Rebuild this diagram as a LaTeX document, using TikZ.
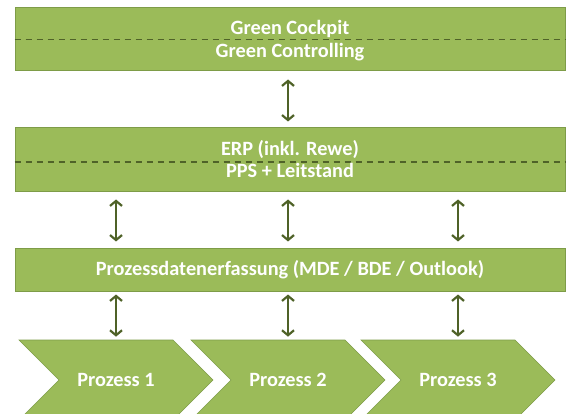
\documentclass[tikz,border=0pt]{standalone}
\usepackage{fontspec}
\setmainfont{Carlito}
\usetikzlibrary{arrows.meta,shapes.symbols}
\definecolor{boxgreen}{HTML}{9BBB59}
\definecolor{boxline}{HTML}{7E9C48}
\definecolor{darkgreen}{HTML}{4F6228}
\newcommand{\schrift}{\bfseries\fontsize{20.3}{24}\selectfont}

\begin{document}
\begin{tikzpicture}[x=1pt,y=-1pt,
    ebene/.style={draw=boxline,line width=1pt,fill=boxgreen,minimum width=550pt,inner sep=0pt,text=white,font=\schrift},
    prozess/.style={signal,signal to=east,signal from=west,signal pointer angle=90,draw=boxline,line width=0.6pt,fill=boxgreen,minimum width=194pt,minimum height=80pt,inner sep=0pt,text=white,font=\schrift},
    beschr/.style={text=white,font=\schrift,anchor=base},
    trenn/.style={darkgreen,line width=1.2pt,dash pattern=on 6pt off 5pt},
    pfeil/.style={darkgreen,line width=2.2pt,{Straight Barb[length=5pt,width=12pt]}-{Straight Barb[length=5pt,width=12pt]}}]
    \clip (0,0) rectangle (573,414);

    % Ebenen
    \node[ebene,minimum height=63pt] (cockpit) at (290,39.5) {};
    \node[ebene,minimum height=64pt] (erp) at (290,160) {};
    \node[ebene,minimum height=42pt] (pde) at (290,270) {Prozessdatenerfassung (MDE / BDE / Outlook)};

    \draw[trenn] (cockpit.west) -- (cockpit.east);
    \draw[trenn] ([yshift=-2pt]erp.west) -- ([yshift=-2pt]erp.east);

    \node[beschr] (gcockpit) at (290,35) {Green Cockpit};
    \node[beschr] (gcontrol) at (290,58) {Green Controlling};
    \node[beschr] (erptext) at (290,156) {ERP (inkl. Rewe)};
    \node[beschr] (pps) at (290,178) {PPS + Leitstand};

    % Prozesse
    \node[prozess] (p1) at (116,380) {Prozess 1};
    \node[prozess] (p2) at (288,380) {Prozess 2};
    \node[prozess] (p3) at (458,380) {Prozess 3};

    % Pfeile
    \draw[pfeil,shorten <=8pt,shorten >=6pt] (cockpit.south -| p2) -- (erp.north -| p2);
    \foreach \p in {p1,p2,p3} {
        \draw[pfeil,shorten <=7pt,shorten >=7pt] (erp.south -| \p) -- (pde.north -| \p);
        \draw[pfeil,shorten <=3pt,shorten >=3pt] (pde.south -| \p) -- (\p.north);
    }
\end{tikzpicture}
\end{document}
